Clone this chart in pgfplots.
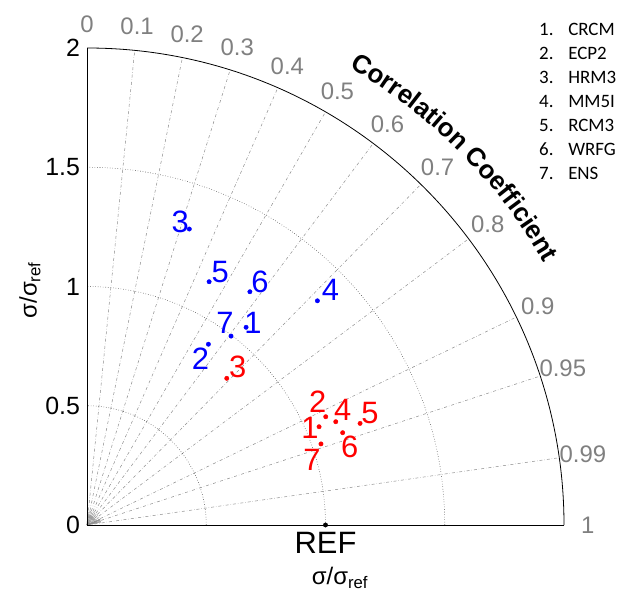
\documentclass[border=0pt]{standalone}
\usepackage{fontspec}
\setmainfont{Liberation Sans}
\newfontfamily\calibri{Carlito}
\usepackage{pgfplots}
\usepackage{pgfplotstable}
\pgfplotsset{compat=1.18}
\usetikzlibrary{decorations.text}
\definecolor{cgray}{RGB}{128,128,128}
\definecolor{lgray}{RGB}{140,140,140}

\pgfplotstableread{
x y lab dx dy
0.667 0.829 1 7 4
0.509 0.758 2 -8 -14
0.429 1.241 3 -9 7
0.966 0.940 4 13 11
0.512 1.020 5 11 10
0.683 0.978 6 10 10
0.604 0.792 7 -6 13
}\bluedata

\pgfplotstableread{
x y lab dx dy
0.973 0.412 1 -9 -1
1.001 0.454 2 -8 15
0.586 0.615 3 11 11
1.043 0.433 4 7 12
1.145 0.426 5 10 10
1.072 0.387 6 7 -14
0.981 0.340 7 -9 -16
}\reddata

\begin{document}
\begin{tikzpicture}
\begin{axis}[x=238.5bp, y=238.5bp,
  xmin=-0.3648, xmax=2.2642, ymin=-0.2935, ymax=2.2013,
  hide axis, clip=false]

% fixed frame of the picture
\path (axis cs:-0.3648,-0.2935) rectangle (axis cs:2.2642,2.2013);

% radial correlation lines
\pgfplotsinvokeforeach{0.1,0.2,0.3,0.4,0.5,0.6,0.7,0.8,0.9,0.95,0.99}{
  \draw[lgray, dash dot, line width=0.5pt] (axis cs:0,0) -- (axis cs:{2*#1},{2*sqrt(1-#1*#1)});
}
\pgfplotsinvokeforeach{0.05,0.15,0.25,0.35,0.45,0.55,0.65,0.75,0.85,0.91,0.92,0.93,0.94,0.96,0.97,0.98}{
  \draw[lgray, line width=0.4pt] (axis cs:0,0) -- (axis cs:{0.06*#1},{0.06*sqrt(1-#1*#1)});
}
% std arcs
\draw[black!75, dotted, line width=0.55pt] (axis cs:0.5,0) arc[start angle=0, end angle=90, radius=119.25bp];
\draw[black!75, dotted, line width=0.55pt] (axis cs:1,0) arc[start angle=0, end angle=90, radius=238.5bp];
\draw[black!75, dotted, line width=0.55pt] (axis cs:1.5,0) arc[start angle=0, end angle=90, radius=357.75bp];
\draw[black, line width=0.8pt] (axis cs:2,0) arc[start angle=0, end angle=90, radius=477bp];
\draw[black, line width=0.8pt] (axis cs:0,2) -- (axis cs:0,0) -- (axis cs:2,0);

% correlation labels
\pgfplotsinvokeforeach{0,0.1,0.2,0.3,0.4,0.5,0.6,0.7,0.8,0.9,0.95,0.99,1}{
  \node[cgray, inner sep=0pt, font=\fontsize{24}{24}\selectfont] at (axis cs:{2.1*#1},{2.1*sqrt(1-#1*#1)}) {#1};
}
% curved title
\path[decorate, decoration={text along path, text align=center,
  text={|\fontsize{26}{26}\selectfont\bfseries|Correlation Coefficient}}]
  (axis cs:{2.21*cos(63)},{2.21*sin(63)}) arc[start angle=63, end angle=27, radius=527bp];

% std tick labels
\pgfplotsinvokeforeach{0,0.5,1,1.5,2}{
  \node[anchor=east, inner sep=0pt, font=\fontsize{25}{25}\selectfont] at (axis cs:-0.029,#1) {#1};
}
\node[rotate=90, font=\fontsize{24}{24}\selectfont] at (axis cs:-0.239,0.985) {σ/σ\textsubscript{ref}};
\node[font=\fontsize{24}{24}\selectfont] at (axis cs:1.061,-0.222) {σ/σ\textsubscript{ref}};
\node[inner sep=0pt, font=\fontsize{31}{31}\selectfont] at (axis cs:1.0,-0.075) {REF};

% legend text
\node[anchor=base west, inner sep=0pt, font=\calibri\fontsize{19}{19}\selectfont] at (axis cs:1.895,{(525-35)/238.5}) {1.};
\node[anchor=base west, inner sep=0pt, font=\calibri\fontsize{19}{19}\selectfont] at (axis cs:1.895,{(525-59)/238.5}) {2.};
\node[anchor=base west, inner sep=0pt, font=\calibri\fontsize{19}{19}\selectfont] at (axis cs:1.895,{(525-83)/238.5}) {3.};
\node[anchor=base west, inner sep=0pt, font=\calibri\fontsize{19}{19}\selectfont] at (axis cs:1.895,{(525-107)/238.5}) {4.};
\node[anchor=base west, inner sep=0pt, font=\calibri\fontsize{19}{19}\selectfont] at (axis cs:1.895,{(525-131)/238.5}) {5.};
\node[anchor=base west, inner sep=0pt, font=\calibri\fontsize{19}{19}\selectfont] at (axis cs:1.895,{(525-155)/238.5}) {6.};
\node[anchor=base west, inner sep=0pt, font=\calibri\fontsize{19}{19}\selectfont] at (axis cs:1.895,{(525-179)/238.5}) {7.};
\node[anchor=base west, inner sep=0pt, font=\calibri\fontsize{19}{19}\selectfont] at (axis cs:2.017,{(525-35)/238.5}) {CRCM};
\node[anchor=base west, inner sep=0pt, font=\calibri\fontsize{19}{19}\selectfont] at (axis cs:2.017,{(525-59)/238.5}) {ECP2};
\node[anchor=base west, inner sep=0pt, font=\calibri\fontsize{19}{19}\selectfont] at (axis cs:2.017,{(525-83)/238.5}) {HRM3};
\node[anchor=base west, inner sep=0pt, font=\calibri\fontsize{19}{19}\selectfont] at (axis cs:2.017,{(525-107)/238.5}) {MM5I};
\node[anchor=base west, inner sep=0pt, font=\calibri\fontsize{19}{19}\selectfont] at (axis cs:2.017,{(525-131)/238.5}) {RCM3};
\node[anchor=base west, inner sep=0pt, font=\calibri\fontsize{19}{19}\selectfont] at (axis cs:2.017,{(525-155)/238.5}) {WRFG};
\node[anchor=base west, inner sep=0pt, font=\calibri\fontsize{19}{19}\selectfont] at (axis cs:2.017,{(525-179)/238.5}) {ENS};

% data
\addplot[only marks, mark=*, mark size=2.2pt, color=blue,
  point meta=explicit symbolic, nodes near coords,
  visualization depends on={\thisrow{dx}\as\dx},
  visualization depends on={\thisrow{dy}\as\dy},
  nodes near coords style={anchor=center, inner sep=0pt, xshift=\dx bp, yshift=\dy bp,
    font=\fontsize{31}{31}\selectfont, text=blue}]
  table[x=x, y=y, meta=lab]{\bluedata};
\addplot[only marks, mark=*, mark size=2.2pt, color=red,
  point meta=explicit symbolic, nodes near coords,
  visualization depends on={\thisrow{dx}\as\dx},
  visualization depends on={\thisrow{dy}\as\dy},
  nodes near coords style={anchor=center, inner sep=0pt, xshift=\dx bp, yshift=\dy bp,
    font=\fontsize{31}{31}\selectfont, text=red}]
  table[x=x, y=y, meta=lab]{\reddata};
\addplot[only marks, mark=*, mark size=2.2pt, color=black] coordinates {(1,0)};
\end{axis}
\end{tikzpicture}
\end{document}
